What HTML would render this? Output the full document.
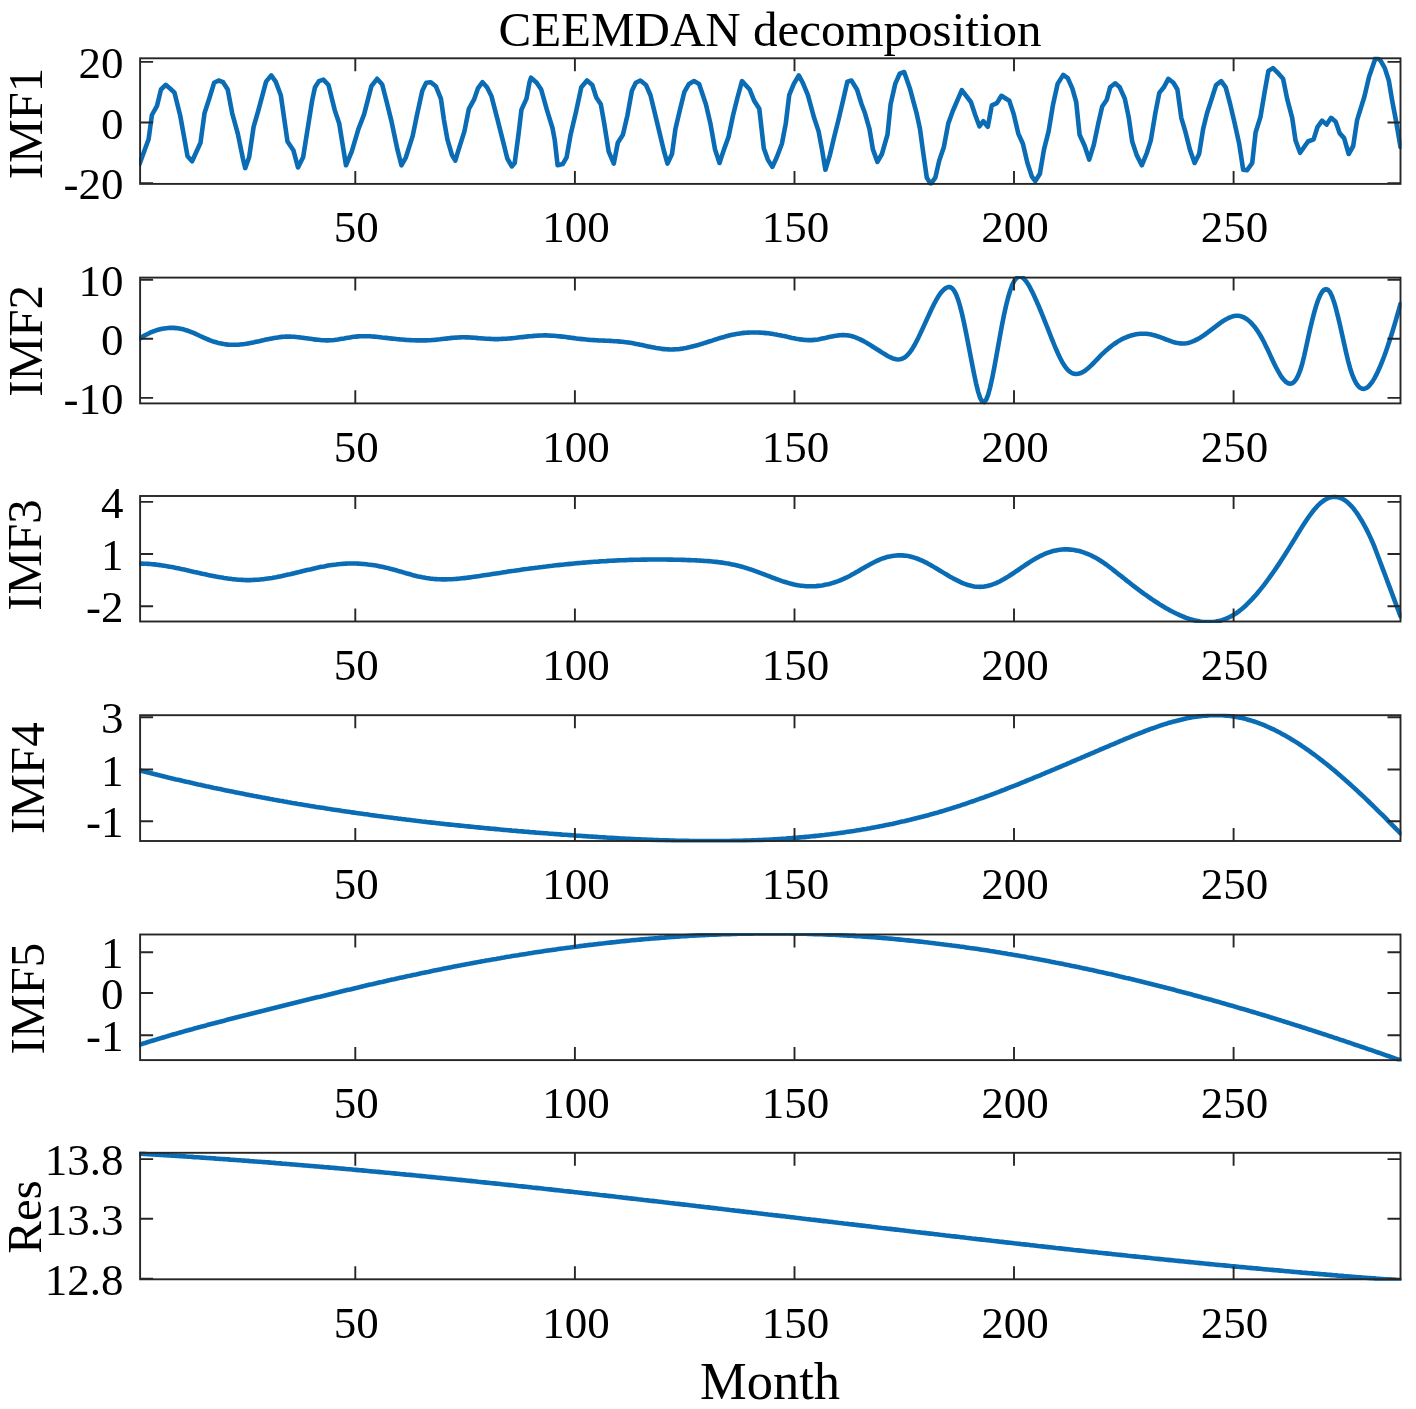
<!DOCTYPE html><html><head><meta charset="utf-8"><style>html,body{margin:0;padding:0;background:#fff;width:1416px;height:1409px;overflow:hidden}svg{display:block;will-change:transform}text{font-family:"Liberation Serif",serif;fill:#000}</style></head><body>
<svg width="1416" height="1409" viewBox="0 0 1416 1409">
<rect width="1416" height="1409" fill="#fff"/>
<text x="770" y="45.5" font-size="49" text-anchor="middle" fill="#000">CEEMDAN decomposition</text>
<clipPath id="cp0"><rect x="139.1" y="56.8" width="1262.4" height="128.6"/></clipPath>
<path d="M139.5 164.1 L148.6 139.3 L151.9 115.0 L157.0 105.9 L161.0 89.5 L165.7 84.8 L170.6 89.0 L174.5 92.7 L180.2 115.5 L184.7 140.4 L187.5 156.2 L192.1 161.3 L200.5 142.7 L204.5 113.3 L209.6 97.5 L214.1 82.8 L218.6 80.5 L223.1 82.2 L227.7 89.5 L232.2 113.3 L237.8 133.6 L242.9 158.5 L245.2 168.1 L249.1 157.3 L253.6 126.8 L258.2 111.0 L266.1 81.6 L271.2 75.4 L275.7 81.6 L280.8 95.2 L287.5 141.5 L293.5 150.6 L298.0 167.5 L303.1 157.3 L307.6 129.1 L312.1 100.8 L315.0 87.3 L318.9 81.1 L323.4 79.6 L328.5 85.0 L334.7 109.9 L339.2 123.4 L346.0 165.3 L351.7 151.7 L358.4 129.1 L364.1 114.4 L371.4 86.2 L377.1 78.8 L382.2 84.5 L386.7 102.0 L391.2 120.1 L397.4 149.4 L401.4 165.3 L405.9 157.3 L412.7 135.9 L416.6 116.7 L422.3 90.7 L426.2 82.8 L430.8 82.2 L435.8 86.2 L440.9 98.6 L444.0 120.1 L447.4 139.3 L452.0 155.1 L455.3 160.7 L458.7 149.4 L464.4 131.4 L468.9 108.8 L474.0 99.7 L477.9 88.4 L482.5 82.2 L487.0 87.3 L491.5 96.3 L497.1 117.8 L502.8 140.4 L507.3 158.5 L511.8 166.4 L514.7 163.0 L518.6 133.6 L521.4 109.9 L526.5 98.6 L529.4 82.8 L531.0 77.7 L536.7 82.8 L541.2 89.5 L546.9 109.9 L552.5 128.0 L554.8 140.4 L557.6 165.3 L562.7 164.1 L566.6 157.3 L570.6 134.7 L576.2 111.0 L581.3 87.3 L587.0 80.5 L592.3 85.0 L596.3 97.5 L600.8 104.2 L604.2 123.4 L608.7 151.7 L613.8 163.6 L617.8 142.7 L622.9 134.7 L627.4 115.5 L631.9 90.7 L635.8 82.8 L640.4 80.5 L646.0 85.0 L650.5 95.2 L657.3 123.4 L664.1 151.7 L667.5 163.6 L672.0 154.0 L675.4 129.1 L679.9 109.9 L684.4 91.8 L689.0 83.9 L694.0 81.1 L699.1 83.9 L705.9 104.2 L710.4 123.4 L715.0 149.4 L719.5 163.0 L724.0 149.4 L728.5 137.0 L733.0 115.5 L737.5 97.5 L742.0 81.1 L749.7 89.5 L754.2 100.8 L759.3 108.8 L761.6 129.1 L763.8 148.3 L767.8 159.6 L772.3 166.9 L776.8 157.3 L781.9 143.8 L785.8 123.4 L789.2 95.2 L793.8 83.9 L798.8 75.4 L802.8 82.8 L807.9 95.2 L814.1 117.8 L818.6 131.4 L822.0 149.4 L825.4 169.8 L829.9 155.1 L834.4 135.9 L839.0 117.8 L843.5 98.6 L847.4 81.6 L851.4 80.5 L857.0 89.5 L861.6 104.2 L865.0 113.3 L869.5 129.1 L872.9 149.4 L877.4 161.9 L881.9 154.0 L887.5 134.7 L890.6 104.2 L895.2 83.9 L899.7 73.7 L904.2 72.0 L909.9 88.4 L916.6 113.3 L920.0 129.1 L923.4 154.0 L926.8 177.7 L930.8 183.9 L935.3 177.7 L939.2 160.7 L943.8 147.2 L948.3 123.4 L952.8 111.0 L961.8 90.1 L970.9 102.0 L975.4 115.5 L979.4 126.3 L983.3 121.2 L987.8 126.8 L991.8 105.4 L996.9 103.1 L1001.4 95.8 L1009.3 100.8 L1013.8 114.4 L1018.3 133.6 L1022.9 143.8 L1027.4 163.0 L1031.9 176.6 L1035.3 181.1 L1039.9 173.7 L1044.0 149.4 L1048.6 131.4 L1053.1 104.2 L1057.6 83.9 L1063.2 74.9 L1067.8 78.2 L1072.3 88.4 L1076.2 102.0 L1079.6 134.7 L1084.7 146.0 L1089.2 159.6 L1093.8 144.9 L1098.3 123.4 L1102.2 106.5 L1106.8 99.7 L1110.1 87.3 L1115.2 83.3 L1119.7 87.3 L1124.8 98.6 L1128.8 117.8 L1132.2 141.5 L1136.7 155.1 L1141.8 165.3 L1146.9 152.8 L1150.8 140.4 L1155.3 113.3 L1159.3 92.9 L1163.8 87.3 L1168.3 78.8 L1173.4 82.8 L1177.4 89.5 L1181.3 117.8 L1185.3 131.4 L1190.0 150.0 L1194.6 163.0 L1199.1 154.0 L1203.1 129.1 L1207.0 113.3 L1212.1 97.5 L1216.1 85.0 L1221.2 81.1 L1225.7 87.3 L1230.2 104.2 L1234.7 123.4 L1239.2 143.8 L1243.2 169.8 L1247.1 170.3 L1252.2 163.0 L1255.6 132.5 L1260.5 116.7 L1264.5 92.9 L1268.4 70.9 L1273.0 68.1 L1278.6 73.7 L1283.1 78.8 L1287.1 98.6 L1292.2 117.8 L1295.5 140.4 L1300.1 152.8 L1308.0 141.5 L1313.6 139.3 L1317.6 126.8 L1322.1 120.6 L1326.6 124.6 L1331.1 117.8 L1335.7 121.8 L1339.6 133.1 L1344.1 138.1 L1348.7 154.0 L1353.2 146.0 L1357.1 120.1 L1364.5 96.3 L1369.0 77.1 L1375.8 57.3 L1380.3 60.2 L1384.8 68.1 L1388.8 80.5 L1392.2 100.8 L1396.1 121.2 L1400.5 147.0" fill="none" stroke="#0A6CB4" stroke-width="4.6" stroke-linejoin="round" stroke-linecap="round" clip-path="url(#cp0)"/>
<rect x="140.1" y="58.3" width="1260.4" height="125.6" fill="none" stroke="#262626" stroke-width="1.9"/>
<path d="M355.3 183.9V170.9M355.3 58.3V71.3M574.9 183.9V170.9M574.9 58.3V71.3M794.5 183.9V170.9M794.5 58.3V71.3M1014.0 183.9V170.9M1014.0 58.3V71.3M1233.6 183.9V170.9M1233.6 58.3V71.3M140.1 61.9H153.1M1400.5 61.9H1387.5M140.1 122.5H153.1M1400.5 122.5H1387.5M140.1 183.1H153.1M1400.5 183.1H1387.5" stroke="#262626" stroke-width="1.9" fill="none"/>
<text x="356.3" y="242.1" font-size="45" text-anchor="middle" fill="#222">50</text>
<text x="575.9" y="242.1" font-size="45" text-anchor="middle" fill="#222">100</text>
<text x="795.5" y="242.1" font-size="45" text-anchor="middle" fill="#222">150</text>
<text x="1015.0" y="242.1" font-size="45" text-anchor="middle" fill="#222">200</text>
<text x="1234.6" y="242.1" font-size="45" text-anchor="middle" fill="#222">250</text>
<text x="123.5" y="77.9" font-size="45" text-anchor="end" fill="#222">20</text>
<text x="123.5" y="138.5" font-size="45" text-anchor="end" fill="#222">0</text>
<text x="123.5" y="199.1" font-size="45" text-anchor="end" fill="#222">-20</text>
<text transform="translate(26.1 123.5) rotate(-90)" x="0" y="0" font-size="49" text-anchor="middle" dy="0.33em" fill="#222">IMF1</text>
<clipPath id="cp1"><rect x="139.1" y="276.1" width="1262.4" height="128.8"/></clipPath>
<path d="M140.1 338.3 L142.1 337.0 L144.1 335.8 L146.1 334.7 L148.1 333.7 L150.1 332.7 L152.1 331.9 L154.1 331.1 L156.1 330.4 L158.1 329.8 L160.1 329.3 L162.1 328.8 L164.1 328.5 L166.1 328.2 L168.1 328.0 L170.1 327.9 L172.1 327.9 L174.1 327.9 L176.1 328.1 L178.1 328.3 L180.1 328.7 L182.1 329.1 L184.1 329.6 L186.1 330.2 L188.1 330.8 L190.1 331.6 L192.1 332.4 L194.1 333.2 L196.1 334.1 L198.1 335.0 L200.1 336.0 L202.1 336.9 L204.1 337.8 L206.1 338.7 L208.1 339.5 L210.1 340.3 L212.1 341.1 L214.1 341.7 L216.1 342.3 L218.1 342.9 L220.1 343.3 L222.1 343.7 L224.1 344.1 L226.1 344.4 L228.1 344.6 L230.1 344.7 L232.1 344.8 L234.1 344.8 L236.1 344.8 L238.1 344.7 L240.1 344.5 L242.1 344.3 L244.1 344.1 L246.1 343.8 L248.1 343.4 L250.1 343.1 L252.1 342.7 L254.1 342.3 L256.1 341.8 L258.1 341.4 L260.1 341.0 L262.1 340.5 L264.1 340.1 L266.1 339.6 L268.1 339.2 L270.1 338.8 L272.1 338.4 L274.1 338.0 L276.1 337.7 L278.1 337.4 L280.1 337.1 L282.1 336.9 L284.1 336.7 L286.1 336.6 L288.1 336.6 L290.1 336.6 L292.1 336.7 L294.1 336.8 L296.1 337.0 L298.1 337.2 L300.1 337.4 L302.1 337.7 L304.1 337.9 L306.1 338.2 L308.1 338.5 L310.1 338.8 L312.1 339.1 L314.1 339.4 L316.1 339.6 L318.1 339.8 L320.1 340.0 L322.1 340.2 L324.1 340.3 L326.1 340.4 L328.1 340.4 L330.1 340.3 L332.1 340.2 L334.1 340.0 L336.1 339.7 L338.1 339.5 L340.1 339.1 L342.1 338.8 L344.1 338.5 L346.1 338.1 L348.1 337.7 L350.1 337.4 L352.1 337.1 L354.1 336.8 L356.1 336.6 L358.1 336.4 L360.1 336.3 L362.1 336.2 L364.1 336.2 L366.1 336.2 L368.1 336.2 L370.1 336.3 L372.1 336.5 L374.1 336.6 L376.1 336.8 L378.1 337.0 L380.1 337.2 L382.1 337.5 L384.1 337.7 L386.1 337.9 L388.1 338.1 L390.1 338.4 L392.1 338.6 L394.1 338.8 L396.1 339.0 L398.1 339.2 L400.1 339.4 L402.1 339.5 L404.1 339.7 L406.1 339.9 L408.1 340.0 L410.1 340.1 L412.1 340.2 L414.1 340.3 L416.1 340.4 L418.1 340.4 L420.1 340.4 L422.1 340.4 L424.1 340.4 L426.1 340.4 L428.1 340.3 L430.1 340.2 L432.1 340.0 L434.1 339.9 L436.1 339.7 L438.1 339.5 L440.1 339.3 L442.1 339.0 L444.1 338.8 L446.1 338.6 L448.1 338.4 L450.1 338.1 L452.1 337.9 L454.1 337.8 L456.1 337.6 L458.1 337.5 L460.1 337.4 L462.1 337.3 L464.1 337.3 L466.1 337.4 L468.1 337.4 L470.1 337.5 L472.1 337.6 L474.1 337.8 L476.1 337.9 L478.1 338.1 L480.1 338.2 L482.1 338.4 L484.1 338.5 L486.1 338.7 L488.1 338.8 L490.1 338.9 L492.1 339.0 L494.1 339.1 L496.1 339.1 L498.1 339.1 L500.1 339.0 L502.1 338.9 L504.1 338.8 L506.1 338.7 L508.1 338.5 L510.1 338.4 L512.1 338.2 L514.1 338.0 L516.1 337.8 L518.1 337.5 L520.1 337.3 L522.1 337.1 L524.1 336.9 L526.1 336.6 L528.1 336.4 L530.1 336.2 L532.1 336.1 L534.1 335.9 L536.1 335.7 L538.1 335.6 L540.1 335.5 L542.1 335.5 L544.1 335.4 L546.1 335.4 L548.1 335.5 L550.1 335.6 L552.1 335.7 L554.1 335.8 L556.1 336.0 L558.1 336.2 L560.1 336.4 L562.1 336.6 L564.1 336.8 L566.1 337.1 L568.1 337.4 L570.1 337.6 L572.1 337.9 L574.1 338.1 L576.1 338.4 L578.1 338.7 L580.1 338.9 L582.1 339.1 L584.1 339.3 L586.1 339.5 L588.1 339.7 L590.1 339.9 L592.1 340.0 L594.1 340.1 L596.1 340.2 L598.1 340.4 L600.1 340.5 L602.1 340.5 L604.1 340.6 L606.1 340.7 L608.1 340.8 L610.1 340.9 L612.1 341.0 L614.1 341.2 L616.1 341.3 L618.1 341.4 L620.1 341.6 L622.1 341.8 L624.1 342.0 L626.1 342.2 L628.1 342.5 L630.1 342.8 L632.1 343.1 L634.1 343.5 L636.1 343.9 L638.1 344.3 L640.1 344.7 L642.1 345.1 L644.1 345.6 L646.1 346.0 L648.1 346.4 L650.1 346.8 L652.1 347.2 L654.1 347.6 L656.1 348.0 L658.1 348.3 L660.1 348.6 L662.1 348.9 L664.1 349.1 L666.1 349.3 L668.1 349.4 L670.1 349.5 L672.1 349.5 L674.1 349.4 L676.1 349.3 L678.1 349.2 L680.1 348.9 L682.1 348.7 L684.1 348.3 L686.1 348.0 L688.1 347.5 L690.1 347.1 L692.1 346.6 L694.1 346.1 L696.1 345.5 L698.1 345.0 L700.1 344.4 L702.1 343.8 L704.1 343.1 L706.1 342.5 L708.1 341.8 L710.1 341.2 L712.1 340.6 L714.1 339.9 L716.1 339.3 L718.1 338.6 L720.1 338.0 L722.1 337.4 L724.1 336.9 L726.1 336.3 L728.1 335.8 L730.1 335.3 L732.1 334.8 L734.1 334.4 L736.1 334.0 L738.1 333.7 L740.1 333.4 L742.1 333.1 L744.1 332.9 L746.1 332.8 L748.1 332.6 L750.1 332.5 L752.1 332.5 L754.1 332.5 L756.1 332.5 L758.1 332.5 L760.1 332.6 L762.1 332.7 L764.1 332.9 L766.1 333.1 L768.1 333.3 L770.1 333.6 L772.1 333.8 L774.1 334.2 L776.1 334.5 L778.1 334.9 L780.1 335.2 L782.1 335.7 L784.1 336.1 L786.1 336.5 L788.1 337.0 L790.1 337.4 L792.1 337.9 L794.1 338.3 L796.1 338.7 L798.1 339.0 L800.1 339.4 L802.1 339.6 L804.1 339.9 L806.1 340.0 L808.1 340.1 L810.1 340.1 L812.1 340.1 L814.1 339.9 L816.1 339.7 L818.1 339.4 L820.1 339.0 L822.1 338.6 L824.1 338.2 L826.1 337.8 L828.1 337.3 L830.1 336.8 L832.1 336.4 L834.1 336.0 L836.1 335.7 L838.1 335.4 L840.1 335.2 L842.1 335.1 L844.1 335.1 L846.1 335.2 L848.1 335.4 L850.1 335.8 L852.1 336.3 L854.1 336.9 L856.1 337.6 L858.1 338.5 L860.1 339.4 L862.1 340.4 L864.1 341.4 L866.1 342.6 L868.1 343.7 L870.1 344.9 L872.1 346.2 L874.1 347.5 L876.1 348.7 L878.1 350.0 L880.1 351.3 L882.1 352.6 L884.1 353.8 L886.1 355.0 L888.1 356.2 L890.1 357.2 L892.1 358.1 L894.1 358.8 L896.1 359.3 L898.1 359.5 L900.1 359.3 L902.1 358.8 L904.1 357.8 L906.1 356.4 L908.1 354.4 L910.1 352.0 L912.1 349.1 L914.1 345.8 L916.1 342.1 L918.1 338.2 L920.1 334.1 L922.1 329.8 L924.1 325.4 L926.1 321.0 L928.1 316.6 L930.1 312.2 L932.1 308.0 L934.1 304.0 L936.1 300.2 L938.1 296.8 L940.1 293.8 L942.1 291.3 L944.1 289.3 L946.1 287.8 L948.1 287.1 L950.1 287.1 L952.1 288.2 L954.1 290.6 L956.1 294.4 L958.1 299.7 L960.1 306.4 L962.1 314.3 L964.1 323.3 L966.1 333.0 L968.1 343.2 L970.1 353.6 L972.1 364.0 L974.1 374.1 L976.1 383.5 L978.1 391.6 L980.1 397.8 L982.1 401.5 L984.1 402.2 L986.1 399.8 L988.1 394.8 L990.1 387.5 L992.1 378.6 L994.1 368.5 L996.1 357.7 L998.1 346.5 L1000.1 335.3 L1002.1 324.5 L1004.1 314.5 L1006.1 305.5 L1008.1 297.5 L1010.1 290.8 L1012.1 285.3 L1014.1 281.2 L1016.1 278.5 L1018.1 277.0 L1020.1 276.6 L1022.1 277.3 L1024.1 278.9 L1026.1 281.2 L1028.1 284.2 L1030.1 287.7 L1032.1 291.6 L1034.1 295.8 L1036.1 300.2 L1038.1 304.7 L1040.1 309.5 L1042.1 314.3 L1044.1 319.3 L1046.1 324.3 L1048.1 329.4 L1050.1 334.5 L1052.1 339.6 L1054.1 344.5 L1056.1 349.3 L1058.1 353.8 L1060.1 358.0 L1062.1 361.8 L1064.1 365.2 L1066.1 368.0 L1068.1 370.3 L1070.1 371.9 L1072.1 373.1 L1074.1 373.8 L1076.1 374.0 L1078.1 373.8 L1080.1 373.3 L1082.1 372.4 L1084.1 371.3 L1086.1 369.8 L1088.1 368.2 L1090.1 366.4 L1092.1 364.5 L1094.1 362.5 L1096.1 360.4 L1098.1 358.3 L1100.1 356.2 L1102.1 354.2 L1104.1 352.3 L1106.1 350.4 L1108.1 348.7 L1110.1 347.1 L1112.1 345.5 L1114.1 344.0 L1116.1 342.7 L1118.1 341.4 L1120.1 340.2 L1122.1 339.1 L1124.1 338.2 L1126.1 337.3 L1128.1 336.5 L1130.1 335.8 L1132.1 335.2 L1134.1 334.7 L1136.1 334.3 L1138.1 334.0 L1140.1 333.8 L1142.1 333.7 L1144.1 333.7 L1146.1 333.8 L1148.1 334.0 L1150.1 334.3 L1152.1 334.7 L1154.1 335.2 L1156.1 335.8 L1158.1 336.5 L1160.1 337.2 L1162.1 337.9 L1164.1 338.7 L1166.1 339.5 L1168.1 340.2 L1170.1 340.9 L1172.1 341.6 L1174.1 342.2 L1176.1 342.7 L1178.1 343.1 L1180.1 343.4 L1182.1 343.5 L1184.1 343.5 L1186.1 343.3 L1188.1 343.0 L1190.1 342.4 L1192.1 341.7 L1194.1 340.9 L1196.1 339.9 L1198.1 338.9 L1200.1 337.7 L1202.1 336.4 L1204.1 335.1 L1206.1 333.6 L1208.1 332.2 L1210.1 330.7 L1212.1 329.2 L1214.1 327.6 L1216.1 326.1 L1218.1 324.6 L1220.1 323.1 L1222.1 321.7 L1224.1 320.4 L1226.1 319.2 L1228.1 318.2 L1230.1 317.3 L1232.1 316.6 L1234.1 316.1 L1236.1 315.8 L1238.1 315.8 L1240.1 316.1 L1242.1 316.7 L1244.1 317.5 L1246.1 318.7 L1248.1 320.1 L1250.1 321.9 L1252.1 323.9 L1254.1 326.2 L1256.1 328.9 L1258.1 331.8 L1260.1 335.0 L1262.1 338.5 L1264.1 342.3 L1266.1 346.4 L1268.1 350.6 L1270.1 354.9 L1272.1 359.2 L1274.1 363.4 L1276.1 367.5 L1278.1 371.2 L1280.1 374.7 L1282.1 377.7 L1284.1 380.1 L1286.1 382.0 L1288.1 383.2 L1290.1 383.7 L1292.1 383.3 L1294.1 381.9 L1296.1 379.4 L1298.1 375.7 L1300.1 370.7 L1302.1 364.2 L1304.1 356.2 L1306.1 347.3 L1308.1 338.1 L1310.1 329.1 L1312.1 320.7 L1314.1 312.9 L1316.1 306.0 L1318.1 300.1 L1320.1 295.4 L1322.1 291.9 L1324.1 289.7 L1326.1 289.1 L1328.1 289.9 L1330.1 292.3 L1332.1 296.5 L1334.1 302.2 L1336.1 309.2 L1338.1 317.1 L1340.1 325.5 L1342.1 334.4 L1344.1 343.5 L1346.1 352.4 L1348.1 360.8 L1350.1 368.2 L1352.1 374.3 L1354.1 379.2 L1356.1 383.1 L1358.1 385.9 L1360.1 387.8 L1362.1 388.8 L1364.1 388.9 L1366.1 388.2 L1368.1 386.8 L1370.1 384.7 L1372.1 382.1 L1374.1 378.9 L1376.1 375.2 L1378.1 371.0 L1380.1 366.5 L1382.1 361.7 L1384.1 356.5 L1386.1 350.9 L1388.1 345.1 L1390.1 339.0 L1392.1 332.7 L1394.1 326.1 L1396.1 319.4 L1398.1 312.4 L1400.1 305.3 L1400.5 303.9" fill="none" stroke="#0A6CB4" stroke-width="4.6" stroke-linejoin="round" stroke-linecap="round" clip-path="url(#cp1)"/>
<rect x="140.1" y="277.6" width="1260.4" height="125.8" fill="none" stroke="#262626" stroke-width="1.9"/>
<path d="M355.3 403.3V390.3M355.3 277.6V290.6M574.9 403.3V390.3M574.9 277.6V290.6M794.5 403.3V390.3M794.5 277.6V290.6M1014.0 403.3V390.3M1014.0 277.6V290.6M1233.6 403.3V390.3M1233.6 277.6V290.6M140.1 279.8H153.1M1400.5 279.8H1387.5M140.1 338.7H153.1M1400.5 338.7H1387.5M140.1 397.9H153.1M1400.5 397.9H1387.5" stroke="#262626" stroke-width="1.9" fill="none"/>
<text x="356.3" y="461.5" font-size="45" text-anchor="middle" fill="#222">50</text>
<text x="575.9" y="461.5" font-size="45" text-anchor="middle" fill="#222">100</text>
<text x="795.5" y="461.5" font-size="45" text-anchor="middle" fill="#222">150</text>
<text x="1015.0" y="461.5" font-size="45" text-anchor="middle" fill="#222">200</text>
<text x="1234.6" y="461.5" font-size="45" text-anchor="middle" fill="#222">250</text>
<text x="123.5" y="295.8" font-size="45" text-anchor="end" fill="#222">10</text>
<text x="123.5" y="354.7" font-size="45" text-anchor="end" fill="#222">0</text>
<text x="123.5" y="413.9" font-size="45" text-anchor="end" fill="#222">-10</text>
<text transform="translate(26.2 340.9) rotate(-90)" x="0" y="0" font-size="49" text-anchor="middle" dy="0.33em" fill="#222">IMF2</text>
<clipPath id="cp2"><rect x="139.1" y="494.5" width="1262.4" height="128.5"/></clipPath>
<path d="M140.1 563.6 L142.1 563.6 L144.1 563.7 L146.1 563.8 L148.1 563.9 L150.1 564.0 L152.1 564.2 L154.1 564.4 L156.1 564.6 L158.1 564.9 L160.1 565.1 L162.1 565.4 L164.1 565.7 L166.1 566.1 L168.1 566.4 L170.1 566.8 L172.1 567.1 L174.1 567.5 L176.1 567.9 L178.1 568.3 L180.1 568.8 L182.1 569.2 L184.1 569.6 L186.1 570.1 L188.1 570.5 L190.1 571.0 L192.1 571.4 L194.1 571.9 L196.1 572.3 L198.1 572.8 L200.1 573.2 L202.1 573.7 L204.1 574.1 L206.1 574.5 L208.1 575.0 L210.1 575.4 L212.1 575.8 L214.1 576.2 L216.1 576.6 L218.1 576.9 L220.1 577.3 L222.1 577.6 L224.1 578.0 L226.1 578.3 L228.1 578.6 L230.1 578.8 L232.1 579.1 L234.1 579.3 L236.1 579.5 L238.1 579.7 L240.1 579.8 L242.1 579.9 L244.1 580.0 L246.1 580.1 L248.1 580.1 L250.1 580.1 L252.1 580.0 L254.1 579.9 L256.1 579.8 L258.1 579.7 L260.1 579.5 L262.1 579.3 L264.1 579.1 L266.1 578.8 L268.1 578.5 L270.1 578.2 L272.1 577.9 L274.1 577.5 L276.1 577.2 L278.1 576.8 L280.1 576.4 L282.1 576.0 L284.1 575.5 L286.1 575.1 L288.1 574.6 L290.1 574.2 L292.1 573.7 L294.1 573.2 L296.1 572.7 L298.1 572.2 L300.1 571.8 L302.1 571.3 L304.1 570.8 L306.1 570.3 L308.1 569.8 L310.1 569.4 L312.1 568.9 L314.1 568.4 L316.1 568.0 L318.1 567.6 L320.1 567.1 L322.1 566.7 L324.1 566.4 L326.1 566.0 L328.1 565.6 L330.1 565.3 L332.1 565.0 L334.1 564.7 L336.1 564.5 L338.1 564.2 L340.1 564.0 L342.1 563.9 L344.1 563.7 L346.1 563.6 L348.1 563.5 L350.1 563.5 L352.1 563.5 L354.1 563.5 L356.1 563.5 L358.1 563.6 L360.1 563.7 L362.1 563.9 L364.1 564.0 L366.1 564.2 L368.1 564.5 L370.1 564.7 L372.1 565.0 L374.1 565.3 L376.1 565.6 L378.1 566.0 L380.1 566.4 L382.1 566.8 L384.1 567.2 L386.1 567.7 L388.1 568.1 L390.1 568.7 L392.1 569.2 L394.1 569.7 L396.1 570.3 L398.1 570.9 L400.1 571.4 L402.1 572.0 L404.1 572.6 L406.1 573.2 L408.1 573.7 L410.1 574.3 L412.1 574.9 L414.1 575.4 L416.1 575.9 L418.1 576.4 L420.1 576.8 L422.1 577.3 L424.1 577.6 L426.1 578.0 L428.1 578.3 L430.1 578.6 L432.1 578.8 L434.1 579.0 L436.1 579.1 L438.1 579.2 L440.1 579.3 L442.1 579.4 L444.1 579.4 L446.1 579.4 L448.1 579.3 L450.1 579.2 L452.1 579.2 L454.1 579.0 L456.1 578.9 L458.1 578.7 L460.1 578.5 L462.1 578.3 L464.1 578.1 L466.1 577.9 L468.1 577.6 L470.1 577.4 L472.1 577.1 L474.1 576.8 L476.1 576.5 L478.1 576.2 L480.1 575.9 L482.1 575.6 L484.1 575.3 L486.1 575.0 L488.1 574.7 L490.1 574.4 L492.1 574.1 L494.1 573.8 L496.1 573.5 L498.1 573.2 L500.1 572.9 L502.1 572.6 L504.1 572.2 L506.1 571.9 L508.1 571.6 L510.1 571.3 L512.1 571.0 L514.1 570.8 L516.1 570.5 L518.1 570.2 L520.1 569.9 L522.1 569.6 L524.1 569.3 L526.1 569.0 L528.1 568.8 L530.1 568.5 L532.1 568.2 L534.1 568.0 L536.1 567.7 L538.1 567.5 L540.1 567.2 L542.1 567.0 L544.1 566.7 L546.1 566.5 L548.1 566.2 L550.1 566.0 L552.1 565.8 L554.1 565.5 L556.1 565.3 L558.1 565.1 L560.1 564.9 L562.1 564.7 L564.1 564.5 L566.1 564.3 L568.1 564.1 L570.1 563.9 L572.1 563.7 L574.1 563.5 L576.1 563.3 L578.1 563.1 L580.1 563.0 L582.1 562.8 L584.1 562.6 L586.1 562.5 L588.1 562.3 L590.1 562.1 L592.1 562.0 L594.1 561.8 L596.1 561.7 L598.1 561.6 L600.1 561.4 L602.1 561.3 L604.1 561.2 L606.1 561.1 L608.1 560.9 L610.1 560.8 L612.1 560.7 L614.1 560.6 L616.1 560.5 L618.1 560.4 L620.1 560.3 L622.1 560.2 L624.1 560.2 L626.1 560.1 L628.1 560.0 L630.1 559.9 L632.1 559.9 L634.1 559.8 L636.1 559.8 L638.1 559.7 L640.1 559.7 L642.1 559.6 L644.1 559.6 L646.1 559.6 L648.1 559.5 L650.1 559.5 L652.1 559.5 L654.1 559.5 L656.1 559.5 L658.1 559.5 L660.1 559.5 L662.1 559.5 L664.1 559.5 L666.1 559.5 L668.1 559.6 L670.1 559.6 L672.1 559.6 L674.1 559.7 L676.1 559.7 L678.1 559.7 L680.1 559.8 L682.1 559.9 L684.1 559.9 L686.1 560.0 L688.1 560.1 L690.1 560.1 L692.1 560.2 L694.1 560.3 L696.1 560.4 L698.1 560.5 L700.1 560.6 L702.1 560.7 L704.1 560.9 L706.1 561.0 L708.1 561.1 L710.1 561.3 L712.1 561.5 L714.1 561.7 L716.1 561.9 L718.1 562.1 L720.1 562.4 L722.1 562.6 L724.1 562.9 L726.1 563.3 L728.1 563.6 L730.1 564.0 L732.1 564.4 L734.1 564.8 L736.1 565.2 L738.1 565.7 L740.1 566.2 L742.1 566.8 L744.1 567.4 L746.1 568.0 L748.1 568.6 L750.1 569.3 L752.1 569.9 L754.1 570.7 L756.1 571.4 L758.1 572.1 L760.1 572.9 L762.1 573.6 L764.1 574.4 L766.1 575.2 L768.1 575.9 L770.1 576.7 L772.1 577.5 L774.1 578.2 L776.1 579.0 L778.1 579.7 L780.1 580.4 L782.1 581.1 L784.1 581.7 L786.1 582.3 L788.1 582.9 L790.1 583.5 L792.1 584.0 L794.1 584.5 L796.1 584.9 L798.1 585.3 L800.1 585.6 L802.1 585.8 L804.1 586.0 L806.1 586.2 L808.1 586.3 L810.1 586.3 L812.1 586.3 L814.1 586.2 L816.1 586.1 L818.1 585.9 L820.1 585.7 L822.1 585.4 L824.1 585.0 L826.1 584.6 L828.1 584.2 L830.1 583.7 L832.1 583.1 L834.1 582.5 L836.1 581.8 L838.1 581.1 L840.1 580.3 L842.1 579.5 L844.1 578.6 L846.1 577.7 L848.1 576.7 L850.1 575.7 L852.1 574.6 L854.1 573.5 L856.1 572.3 L858.1 571.2 L860.1 570.0 L862.1 568.8 L864.1 567.7 L866.1 566.5 L868.1 565.4 L870.1 564.3 L872.1 563.2 L874.1 562.2 L876.1 561.2 L878.1 560.3 L880.1 559.4 L882.1 558.7 L884.1 558.0 L886.1 557.3 L888.1 556.8 L890.1 556.4 L892.1 556.0 L894.1 555.7 L896.1 555.5 L898.1 555.4 L900.1 555.4 L902.1 555.4 L904.1 555.6 L906.1 555.8 L908.1 556.1 L910.1 556.5 L912.1 557.0 L914.1 557.6 L916.1 558.2 L918.1 559.0 L920.1 559.8 L922.1 560.7 L924.1 561.6 L926.1 562.6 L928.1 563.7 L930.1 564.8 L932.1 565.9 L934.1 567.1 L936.1 568.3 L938.1 569.5 L940.1 570.7 L942.1 571.9 L944.1 573.1 L946.1 574.3 L948.1 575.5 L950.1 576.7 L952.1 577.8 L954.1 578.9 L956.1 579.9 L958.1 580.9 L960.1 581.9 L962.1 582.8 L964.1 583.6 L966.1 584.3 L968.1 585.0 L970.1 585.5 L972.1 586.0 L974.1 586.4 L976.1 586.7 L978.1 586.8 L980.1 586.9 L982.1 586.8 L984.1 586.6 L986.1 586.2 L988.1 585.8 L990.1 585.3 L992.1 584.6 L994.1 583.9 L996.1 583.1 L998.1 582.2 L1000.1 581.2 L1002.1 580.1 L1004.1 579.0 L1006.1 577.8 L1008.1 576.6 L1010.1 575.3 L1012.1 574.0 L1014.1 572.7 L1016.1 571.3 L1018.1 570.0 L1020.1 568.6 L1022.1 567.2 L1024.1 565.9 L1026.1 564.5 L1028.1 563.2 L1030.1 561.9 L1032.1 560.6 L1034.1 559.4 L1036.1 558.3 L1038.1 557.2 L1040.1 556.1 L1042.1 555.2 L1044.1 554.2 L1046.1 553.4 L1048.1 552.6 L1050.1 552.0 L1052.1 551.3 L1054.1 550.8 L1056.1 550.4 L1058.1 550.0 L1060.1 549.7 L1062.1 549.5 L1064.1 549.4 L1066.1 549.4 L1068.1 549.4 L1070.1 549.6 L1072.1 549.8 L1074.1 550.0 L1076.1 550.4 L1078.1 550.8 L1080.1 551.3 L1082.1 551.9 L1084.1 552.6 L1086.1 553.3 L1088.1 554.1 L1090.1 555.0 L1092.1 555.9 L1094.1 557.0 L1096.1 558.1 L1098.1 559.2 L1100.1 560.5 L1102.1 561.8 L1104.1 563.1 L1106.1 564.5 L1108.1 566.0 L1110.1 567.5 L1112.1 569.0 L1114.1 570.6 L1116.1 572.2 L1118.1 573.8 L1120.1 575.3 L1122.1 576.9 L1124.1 578.5 L1126.1 580.1 L1128.1 581.7 L1130.1 583.2 L1132.1 584.8 L1134.1 586.3 L1136.1 587.8 L1138.1 589.3 L1140.1 590.8 L1142.1 592.3 L1144.1 593.8 L1146.1 595.2 L1148.1 596.6 L1150.1 598.0 L1152.1 599.4 L1154.1 600.7 L1156.1 602.0 L1158.1 603.3 L1160.1 604.6 L1162.1 605.8 L1164.1 607.0 L1166.1 608.2 L1168.1 609.3 L1170.1 610.4 L1172.1 611.5 L1174.1 612.5 L1176.1 613.5 L1178.1 614.4 L1180.1 615.3 L1182.1 616.2 L1184.1 617.0 L1186.1 617.8 L1188.1 618.5 L1190.1 619.1 L1192.1 619.7 L1194.1 620.3 L1196.1 620.7 L1198.1 621.1 L1200.1 621.5 L1202.1 621.8 L1204.1 622.0 L1206.1 622.1 L1208.1 622.1 L1210.1 622.1 L1212.1 622.0 L1214.1 621.8 L1216.1 621.5 L1218.1 621.1 L1220.1 620.7 L1222.1 620.1 L1224.1 619.4 L1226.1 618.7 L1228.1 617.8 L1230.1 616.8 L1232.1 615.7 L1234.1 614.6 L1236.1 613.3 L1238.1 611.8 L1240.1 610.3 L1242.1 608.7 L1244.1 607.0 L1246.1 605.2 L1248.1 603.2 L1250.1 601.2 L1252.1 599.1 L1254.1 596.9 L1256.1 594.7 L1258.1 592.3 L1260.1 589.9 L1262.1 587.4 L1264.1 584.8 L1266.1 582.2 L1268.1 579.5 L1270.1 576.7 L1272.1 573.9 L1274.1 571.0 L1276.1 568.1 L1278.1 565.1 L1280.1 562.1 L1282.1 559.0 L1284.1 555.9 L1286.1 552.8 L1288.1 549.6 L1290.1 546.4 L1292.1 543.1 L1294.1 539.9 L1296.1 536.6 L1298.1 533.3 L1300.1 530.1 L1302.1 526.9 L1304.1 523.8 L1306.1 520.7 L1308.1 517.8 L1310.1 515.0 L1312.1 512.3 L1314.1 509.8 L1316.1 507.5 L1318.1 505.3 L1320.1 503.4 L1322.1 501.8 L1324.1 500.3 L1326.1 499.1 L1328.1 498.1 L1330.1 497.4 L1332.1 497.0 L1334.1 496.8 L1336.1 496.9 L1338.1 497.2 L1340.1 497.8 L1342.1 498.7 L1344.1 499.8 L1346.1 501.2 L1348.1 502.8 L1350.1 504.8 L1352.1 506.9 L1354.1 509.3 L1356.1 512.0 L1358.1 514.9 L1360.1 518.2 L1362.1 521.3 L1364.1 525.0 L1366.1 528.7 L1368.1 532.6 L1370.1 536.9 L1372.1 541.3 L1374.1 545.9 L1376.1 551.2 L1378.1 556.5 L1380.1 561.8 L1382.1 567.1 L1384.1 572.4 L1386.1 577.7 L1388.1 583.1 L1390.1 588.4 L1392.1 593.8 L1394.1 599.1 L1396.1 604.5 L1398.1 609.8 L1400.1 615.2 L1400.5 616.3" fill="none" stroke="#0A6CB4" stroke-width="4.6" stroke-linejoin="round" stroke-linecap="round" clip-path="url(#cp2)"/>
<rect x="140.1" y="496.0" width="1260.4" height="125.5" fill="none" stroke="#262626" stroke-width="1.9"/>
<path d="M355.3 621.5V608.5M355.3 496.0V509.0M574.9 621.5V608.5M574.9 496.0V509.0M794.5 621.5V608.5M794.5 496.0V509.0M1014.0 621.5V608.5M1014.0 496.0V509.0M1233.6 621.5V608.5M1233.6 496.0V509.0M140.1 501.9H153.1M1400.5 501.9H1387.5M140.1 554.0H153.1M1400.5 554.0H1387.5M140.1 606.3H153.1M1400.5 606.3H1387.5" stroke="#262626" stroke-width="1.9" fill="none"/>
<text x="356.3" y="679.7" font-size="45" text-anchor="middle" fill="#222">50</text>
<text x="575.9" y="679.7" font-size="45" text-anchor="middle" fill="#222">100</text>
<text x="795.5" y="679.7" font-size="45" text-anchor="middle" fill="#222">150</text>
<text x="1015.0" y="679.7" font-size="45" text-anchor="middle" fill="#222">200</text>
<text x="1234.6" y="679.7" font-size="45" text-anchor="middle" fill="#222">250</text>
<text x="123.5" y="517.9" font-size="45" text-anchor="end" fill="#222">4</text>
<text x="123.5" y="570.0" font-size="45" text-anchor="end" fill="#222">1</text>
<text x="123.5" y="622.3" font-size="45" text-anchor="end" fill="#222">-2</text>
<text transform="translate(24.4 555.0) rotate(-90)" x="0" y="0" font-size="49" text-anchor="middle" dy="0.33em" fill="#222">IMF3</text>
<clipPath id="cp3"><rect x="139.1" y="713.7" width="1262.4" height="128.8"/></clipPath>
<path d="M140.1 770.5 L142.1 771.0 L144.1 771.5 L146.1 772.1 L148.1 772.6 L150.1 773.1 L152.1 773.6 L154.1 774.1 L156.1 774.5 L158.1 775.0 L160.1 775.5 L162.1 776.0 L164.1 776.5 L166.1 777.0 L168.1 777.5 L170.1 777.9 L172.1 778.4 L174.1 778.9 L176.1 779.4 L178.1 779.8 L180.1 780.3 L182.1 780.8 L184.1 781.2 L186.1 781.7 L188.1 782.1 L190.1 782.6 L192.1 783.0 L194.1 783.5 L196.1 783.9 L198.1 784.4 L200.1 784.8 L202.1 785.3 L204.1 785.7 L206.1 786.2 L208.1 786.6 L210.1 787.0 L212.1 787.4 L214.1 787.9 L216.1 788.3 L218.1 788.7 L220.1 789.1 L222.1 789.6 L224.1 790.0 L226.1 790.4 L228.1 790.8 L230.1 791.2 L232.1 791.6 L234.1 792.0 L236.1 792.4 L238.1 792.8 L240.1 793.2 L242.1 793.6 L244.1 794.0 L246.1 794.4 L248.1 794.8 L250.1 795.2 L252.1 795.6 L254.1 796.0 L256.1 796.3 L258.1 796.7 L260.1 797.1 L262.1 797.5 L264.1 797.8 L266.1 798.2 L268.1 798.6 L270.1 799.0 L272.1 799.3 L274.1 799.7 L276.1 800.0 L278.1 800.4 L280.1 800.8 L282.1 801.1 L284.1 801.5 L286.1 801.8 L288.1 802.2 L290.1 802.5 L292.1 802.9 L294.1 803.2 L296.1 803.5 L298.1 803.9 L300.1 804.2 L302.1 804.6 L304.1 804.9 L306.1 805.2 L308.1 805.6 L310.1 805.9 L312.1 806.2 L314.1 806.5 L316.1 806.9 L318.1 807.2 L320.1 807.5 L322.1 807.8 L324.1 808.1 L326.1 808.4 L328.1 808.8 L330.1 809.1 L332.1 809.4 L334.1 809.7 L336.1 810.0 L338.1 810.3 L340.1 810.6 L342.1 810.9 L344.1 811.2 L346.1 811.5 L348.1 811.8 L350.1 812.1 L352.1 812.4 L354.1 812.6 L356.1 812.9 L358.1 813.2 L360.1 813.5 L362.1 813.8 L364.1 814.1 L366.1 814.3 L368.1 814.6 L370.1 814.9 L372.1 815.2 L374.1 815.4 L376.1 815.7 L378.1 816.0 L380.1 816.2 L382.1 816.5 L384.1 816.8 L386.1 817.0 L388.1 817.3 L390.1 817.5 L392.1 817.8 L394.1 818.1 L396.1 818.3 L398.1 818.6 L400.1 818.8 L402.1 819.1 L404.1 819.3 L406.1 819.6 L408.1 819.8 L410.1 820.0 L412.1 820.3 L414.1 820.5 L416.1 820.8 L418.1 821.0 L420.1 821.2 L422.1 821.5 L424.1 821.7 L426.1 821.9 L428.1 822.2 L430.1 822.4 L432.1 822.6 L434.1 822.8 L436.1 823.1 L438.1 823.3 L440.1 823.5 L442.1 823.7 L444.1 823.9 L446.1 824.2 L448.1 824.4 L450.1 824.6 L452.1 824.8 L454.1 825.0 L456.1 825.2 L458.1 825.4 L460.1 825.6 L462.1 825.8 L464.1 826.0 L466.1 826.2 L468.1 826.4 L470.1 826.6 L472.1 826.8 L474.1 827.0 L476.1 827.2 L478.1 827.4 L480.1 827.6 L482.1 827.8 L484.1 828.0 L486.1 828.2 L488.1 828.4 L490.1 828.6 L492.1 828.8 L494.1 828.9 L496.1 829.1 L498.1 829.3 L500.1 829.5 L502.1 829.7 L504.1 829.9 L506.1 830.0 L508.1 830.2 L510.1 830.4 L512.1 830.6 L514.1 830.7 L516.1 830.9 L518.1 831.1 L520.1 831.2 L522.1 831.4 L524.1 831.6 L526.1 831.7 L528.1 831.9 L530.1 832.1 L532.1 832.2 L534.1 832.4 L536.1 832.6 L538.1 832.7 L540.1 832.9 L542.1 833.0 L544.1 833.2 L546.1 833.3 L548.1 833.5 L550.1 833.7 L552.1 833.8 L554.1 834.0 L556.1 834.1 L558.1 834.3 L560.1 834.4 L562.1 834.6 L564.1 834.7 L566.1 834.8 L568.1 835.0 L570.1 835.1 L572.1 835.3 L574.1 835.4 L576.1 835.6 L578.1 835.7 L580.1 835.8 L582.1 836.0 L584.1 836.1 L586.1 836.2 L588.1 836.4 L590.1 836.5 L592.1 836.6 L594.1 836.8 L596.1 836.9 L598.1 837.0 L600.1 837.2 L602.1 837.3 L604.1 837.4 L606.1 837.5 L608.1 837.7 L610.1 837.8 L612.1 837.9 L614.1 838.0 L616.1 838.1 L618.1 838.2 L620.1 838.4 L622.1 838.5 L624.1 838.6 L626.1 838.7 L628.1 838.8 L630.1 838.9 L632.1 839.0 L634.1 839.1 L636.1 839.2 L638.1 839.3 L640.1 839.4 L642.1 839.5 L644.1 839.5 L646.1 839.6 L648.1 839.7 L650.1 839.8 L652.1 839.9 L654.1 840.0 L656.1 840.0 L658.1 840.1 L660.1 840.2 L662.1 840.3 L664.1 840.3 L666.1 840.4 L668.1 840.4 L670.1 840.5 L672.1 840.6 L674.1 840.6 L676.1 840.7 L678.1 840.7 L680.1 840.8 L682.1 840.8 L684.1 840.8 L686.1 840.9 L688.1 840.9 L690.1 841.0 L692.1 841.0 L694.1 841.0 L696.1 841.0 L698.1 841.1 L700.1 841.1 L702.1 841.1 L704.1 841.1 L706.1 841.1 L708.1 841.1 L710.1 841.1 L712.1 841.1 L714.1 841.1 L716.1 841.1 L718.1 841.1 L720.1 841.1 L722.1 841.1 L724.1 841.0 L726.1 841.0 L728.1 841.0 L730.1 841.0 L732.1 840.9 L734.1 840.9 L736.1 840.9 L738.1 840.8 L740.1 840.8 L742.1 840.7 L744.1 840.6 L746.1 840.6 L748.1 840.5 L750.1 840.5 L752.1 840.4 L754.1 840.3 L756.1 840.2 L758.1 840.1 L760.1 840.1 L762.1 840.0 L764.1 839.9 L766.1 839.8 L768.1 839.7 L770.1 839.6 L772.1 839.5 L774.1 839.3 L776.1 839.2 L778.1 839.1 L780.1 839.0 L782.1 838.8 L784.1 838.7 L786.1 838.6 L788.1 838.4 L790.1 838.3 L792.1 838.1 L794.1 837.9 L796.1 837.8 L798.1 837.6 L800.1 837.4 L802.1 837.3 L804.1 837.1 L806.1 836.9 L808.1 836.7 L810.1 836.5 L812.1 836.3 L814.1 836.1 L816.1 835.9 L818.1 835.7 L820.1 835.4 L822.1 835.2 L824.1 835.0 L826.1 834.7 L828.1 834.5 L830.1 834.3 L832.1 834.0 L834.1 833.7 L836.1 833.5 L838.1 833.2 L840.1 832.9 L842.1 832.7 L844.1 832.4 L846.1 832.1 L848.1 831.8 L850.1 831.5 L852.1 831.2 L854.1 830.9 L856.1 830.6 L858.1 830.2 L860.1 829.9 L862.1 829.6 L864.1 829.2 L866.1 828.9 L868.1 828.5 L870.1 828.2 L872.1 827.8 L874.1 827.4 L876.1 827.1 L878.1 826.7 L880.1 826.3 L882.1 825.9 L884.1 825.5 L886.1 825.1 L888.1 824.7 L890.1 824.3 L892.1 823.9 L894.1 823.4 L896.1 823.0 L898.1 822.6 L900.1 822.1 L902.1 821.6 L904.1 821.2 L906.1 820.7 L908.1 820.2 L910.1 819.8 L912.1 819.3 L914.1 818.8 L916.1 818.3 L918.1 817.8 L920.1 817.3 L922.1 816.8 L924.1 816.2 L926.1 815.7 L928.1 815.2 L930.1 814.6 L932.1 814.1 L934.1 813.5 L936.1 812.9 L938.1 812.4 L940.1 811.8 L942.1 811.2 L944.1 810.6 L946.1 810.0 L948.1 809.4 L950.1 808.8 L952.1 808.1 L954.1 807.5 L956.1 806.9 L958.1 806.2 L960.1 805.6 L962.1 804.9 L964.1 804.3 L966.1 803.6 L968.1 802.9 L970.1 802.2 L972.1 801.5 L974.1 800.8 L976.1 800.1 L978.1 799.4 L980.1 798.7 L982.1 798.0 L984.1 797.3 L986.1 796.5 L988.1 795.8 L990.1 795.1 L992.1 794.3 L994.1 793.6 L996.1 792.8 L998.1 792.1 L1000.1 791.3 L1002.1 790.5 L1004.1 789.8 L1006.1 789.0 L1008.1 788.2 L1010.1 787.4 L1012.1 786.6 L1014.1 785.9 L1016.1 785.1 L1018.1 784.3 L1020.1 783.5 L1022.1 782.6 L1024.1 781.8 L1026.1 781.0 L1028.1 780.2 L1030.1 779.4 L1032.1 778.6 L1034.1 777.7 L1036.1 776.9 L1038.1 776.1 L1040.1 775.3 L1042.1 774.4 L1044.1 773.6 L1046.1 772.7 L1048.1 771.9 L1050.1 771.1 L1052.1 770.2 L1054.1 769.4 L1056.1 768.5 L1058.1 767.7 L1060.1 766.8 L1062.1 766.0 L1064.1 765.1 L1066.1 764.3 L1068.1 763.4 L1070.1 762.6 L1072.1 761.7 L1074.1 760.8 L1076.1 760.0 L1078.1 759.1 L1080.1 758.3 L1082.1 757.4 L1084.1 756.6 L1086.1 755.7 L1088.1 754.8 L1090.1 754.0 L1092.1 753.1 L1094.1 752.3 L1096.1 751.4 L1098.1 750.6 L1100.1 749.7 L1102.1 748.8 L1104.1 748.0 L1106.1 747.1 L1108.1 746.3 L1110.1 745.4 L1112.1 744.6 L1114.1 743.8 L1116.1 742.9 L1118.1 742.1 L1120.1 741.2 L1122.1 740.4 L1124.1 739.5 L1126.1 738.7 L1128.1 737.9 L1130.1 737.1 L1132.1 736.2 L1134.1 735.4 L1136.1 734.6 L1138.1 733.8 L1140.1 733.0 L1142.1 732.3 L1144.1 731.5 L1146.1 730.7 L1148.1 730.0 L1150.1 729.2 L1152.1 728.5 L1154.1 727.8 L1156.1 727.1 L1158.1 726.4 L1160.1 725.7 L1162.1 725.0 L1164.1 724.4 L1166.1 723.8 L1168.1 723.1 L1170.1 722.6 L1172.1 722.0 L1174.1 721.4 L1176.1 720.9 L1178.1 720.4 L1180.1 719.9 L1182.1 719.4 L1184.1 718.9 L1186.1 718.5 L1188.1 718.1 L1190.1 717.7 L1192.1 717.3 L1194.1 717.0 L1196.1 716.7 L1198.1 716.4 L1200.1 716.2 L1202.1 715.9 L1204.1 715.7 L1206.1 715.6 L1208.1 715.4 L1210.1 715.3 L1212.1 715.2 L1214.1 715.2 L1216.1 715.2 L1218.1 715.2 L1220.1 715.2 L1222.1 715.3 L1224.1 715.4 L1226.1 715.6 L1228.1 715.8 L1230.1 716.0 L1232.1 716.3 L1234.1 716.6 L1236.1 716.9 L1238.1 717.3 L1240.1 717.7 L1242.1 718.1 L1244.1 718.6 L1246.1 719.1 L1248.1 719.7 L1250.1 720.3 L1252.1 720.9 L1254.1 721.5 L1256.1 722.2 L1258.1 722.9 L1260.1 723.7 L1262.1 724.4 L1264.1 725.2 L1266.1 726.1 L1268.1 727.0 L1270.1 727.9 L1272.1 728.8 L1274.1 729.7 L1276.1 730.7 L1278.1 731.8 L1280.1 732.8 L1282.1 733.9 L1284.1 735.0 L1286.1 736.1 L1288.1 737.3 L1290.1 738.4 L1292.1 739.7 L1294.1 740.9 L1296.1 742.1 L1298.1 743.4 L1300.1 744.7 L1302.1 746.1 L1304.1 747.4 L1306.1 748.8 L1308.1 750.2 L1310.1 751.6 L1312.1 753.1 L1314.1 754.5 L1316.1 756.0 L1318.1 757.5 L1320.1 759.1 L1322.1 760.6 L1324.1 762.2 L1326.1 763.8 L1328.1 765.4 L1330.1 767.0 L1332.1 768.7 L1334.1 770.3 L1336.1 772.0 L1338.1 773.7 L1340.1 775.4 L1342.1 777.2 L1344.1 778.9 L1346.1 780.7 L1348.1 782.5 L1350.1 784.3 L1352.1 786.1 L1354.1 787.9 L1356.1 789.7 L1358.1 791.6 L1360.1 793.5 L1362.1 795.3 L1364.1 797.2 L1366.1 799.1 L1368.1 801.0 L1370.1 803.0 L1372.1 804.9 L1374.1 806.9 L1376.1 808.8 L1378.1 810.8 L1380.1 812.8 L1382.1 814.7 L1384.1 816.7 L1386.1 818.7 L1388.1 820.8 L1390.1 822.8 L1392.1 824.8 L1394.1 826.8 L1396.1 828.9 L1398.1 830.9 L1400.1 833.0 L1400.5 833.4" fill="none" stroke="#0A6CB4" stroke-width="4.6" stroke-linejoin="round" stroke-linecap="round" clip-path="url(#cp3)"/>
<rect x="140.1" y="715.2" width="1260.4" height="125.8" fill="none" stroke="#262626" stroke-width="1.9"/>
<path d="M355.3 841.0V828.0M355.3 715.2V728.2M574.9 841.0V828.0M574.9 715.2V728.2M794.5 841.0V828.0M794.5 715.2V728.2M1014.0 841.0V828.0M1014.0 715.2V728.2M1233.6 841.0V828.0M1233.6 715.2V728.2M140.1 717.3H153.1M1400.5 717.3H1387.5M140.1 769.5H153.1M1400.5 769.5H1387.5M140.1 821.3H153.1M1400.5 821.3H1387.5" stroke="#262626" stroke-width="1.9" fill="none"/>
<text x="356.3" y="899.2" font-size="45" text-anchor="middle" fill="#222">50</text>
<text x="575.9" y="899.2" font-size="45" text-anchor="middle" fill="#222">100</text>
<text x="795.5" y="899.2" font-size="45" text-anchor="middle" fill="#222">150</text>
<text x="1015.0" y="899.2" font-size="45" text-anchor="middle" fill="#222">200</text>
<text x="1234.6" y="899.2" font-size="45" text-anchor="middle" fill="#222">250</text>
<text x="123.5" y="733.3" font-size="45" text-anchor="end" fill="#222">3</text>
<text x="123.5" y="785.5" font-size="45" text-anchor="end" fill="#222">1</text>
<text x="123.5" y="837.3" font-size="45" text-anchor="end" fill="#222">-1</text>
<text transform="translate(27.6 778.2) rotate(-90)" x="0" y="0" font-size="49" text-anchor="middle" dy="0.33em" fill="#222">IMF4</text>
<clipPath id="cp4"><rect x="139.1" y="933.0" width="1262.4" height="128.6"/></clipPath>
<path d="M140.1 1044.6 L142.1 1043.9 L144.1 1043.3 L146.1 1042.7 L148.1 1042.0 L150.1 1041.4 L152.1 1040.8 L154.1 1040.2 L156.1 1039.6 L158.1 1039.0 L160.1 1038.4 L162.1 1037.8 L164.1 1037.2 L166.1 1036.6 L168.1 1036.0 L170.1 1035.4 L172.1 1034.8 L174.1 1034.2 L176.1 1033.7 L178.1 1033.1 L180.1 1032.5 L182.1 1032.0 L184.1 1031.4 L186.1 1030.8 L188.1 1030.3 L190.1 1029.7 L192.1 1029.2 L194.1 1028.6 L196.1 1028.1 L198.1 1027.5 L200.1 1027.0 L202.1 1026.4 L204.1 1025.9 L206.1 1025.4 L208.1 1024.8 L210.1 1024.3 L212.1 1023.8 L214.1 1023.3 L216.1 1022.7 L218.1 1022.2 L220.1 1021.7 L222.1 1021.2 L224.1 1020.7 L226.1 1020.1 L228.1 1019.6 L230.1 1019.1 L232.1 1018.6 L234.1 1018.1 L236.1 1017.6 L238.1 1017.1 L240.1 1016.6 L242.1 1016.1 L244.1 1015.6 L246.1 1015.1 L248.1 1014.5 L250.1 1014.0 L252.1 1013.5 L254.1 1013.0 L256.1 1012.5 L258.1 1012.0 L260.1 1011.5 L262.1 1011.0 L264.1 1010.6 L266.1 1010.1 L268.1 1009.6 L270.1 1009.1 L272.1 1008.6 L274.1 1008.1 L276.1 1007.6 L278.1 1007.1 L280.1 1006.6 L282.1 1006.1 L284.1 1005.6 L286.1 1005.1 L288.1 1004.6 L290.1 1004.1 L292.1 1003.6 L294.1 1003.1 L296.1 1002.6 L298.1 1002.1 L300.1 1001.6 L302.1 1001.1 L304.1 1000.6 L306.1 1000.1 L308.1 999.6 L310.1 999.1 L312.1 998.6 L314.1 998.1 L316.1 997.6 L318.1 997.1 L320.1 996.7 L322.1 996.2 L324.1 995.7 L326.1 995.2 L328.1 994.7 L330.1 994.2 L332.1 993.7 L334.1 993.2 L336.1 992.7 L338.1 992.3 L340.1 991.8 L342.1 991.3 L344.1 990.8 L346.1 990.3 L348.1 989.8 L350.1 989.4 L352.1 988.9 L354.1 988.4 L356.1 987.9 L358.1 987.5 L360.1 987.0 L362.1 986.5 L364.1 986.1 L366.1 985.6 L368.1 985.1 L370.1 984.6 L372.1 984.2 L374.1 983.7 L376.1 983.3 L378.1 982.8 L380.1 982.3 L382.1 981.9 L384.1 981.4 L386.1 981.0 L388.1 980.5 L390.1 980.1 L392.1 979.6 L394.1 979.2 L396.1 978.7 L398.1 978.3 L400.1 977.8 L402.1 977.4 L404.1 977.0 L406.1 976.5 L408.1 976.1 L410.1 975.7 L412.1 975.2 L414.1 974.8 L416.1 974.4 L418.1 973.9 L420.1 973.5 L422.1 973.1 L424.1 972.7 L426.1 972.3 L428.1 971.9 L430.1 971.4 L432.1 971.0 L434.1 970.6 L436.1 970.2 L438.1 969.8 L440.1 969.4 L442.1 969.0 L444.1 968.6 L446.1 968.2 L448.1 967.8 L450.1 967.4 L452.1 967.0 L454.1 966.6 L456.1 966.2 L458.1 965.8 L460.1 965.5 L462.1 965.1 L464.1 964.7 L466.1 964.3 L468.1 963.9 L470.1 963.6 L472.1 963.2 L474.1 962.8 L476.1 962.4 L478.1 962.1 L480.1 961.7 L482.1 961.3 L484.1 961.0 L486.1 960.6 L488.1 960.3 L490.1 959.9 L492.1 959.6 L494.1 959.2 L496.1 958.9 L498.1 958.5 L500.1 958.2 L502.1 957.8 L504.1 957.5 L506.1 957.1 L508.1 956.8 L510.1 956.5 L512.1 956.1 L514.1 955.8 L516.1 955.5 L518.1 955.2 L520.1 954.8 L522.1 954.5 L524.1 954.2 L526.1 953.9 L528.1 953.6 L530.1 953.2 L532.1 952.9 L534.1 952.6 L536.1 952.3 L538.1 952.0 L540.1 951.7 L542.1 951.4 L544.1 951.1 L546.1 950.8 L548.1 950.5 L550.1 950.2 L552.1 949.9 L554.1 949.7 L556.1 949.4 L558.1 949.1 L560.1 948.8 L562.1 948.5 L564.1 948.3 L566.1 948.0 L568.1 947.7 L570.1 947.5 L572.1 947.2 L574.1 946.9 L576.1 946.7 L578.1 946.4 L580.1 946.1 L582.1 945.9 L584.1 945.6 L586.1 945.4 L588.1 945.1 L590.1 944.9 L592.1 944.7 L594.1 944.4 L596.1 944.2 L598.1 943.9 L600.1 943.7 L602.1 943.5 L604.1 943.3 L606.1 943.0 L608.1 942.8 L610.1 942.6 L612.1 942.4 L614.1 942.2 L616.1 941.9 L618.1 941.7 L620.1 941.5 L622.1 941.3 L624.1 941.1 L626.1 940.9 L628.1 940.7 L630.1 940.5 L632.1 940.3 L634.1 940.1 L636.1 940.0 L638.1 939.8 L640.1 939.6 L642.1 939.4 L644.1 939.2 L646.1 939.0 L648.1 938.9 L650.1 938.7 L652.1 938.5 L654.1 938.4 L656.1 938.2 L658.1 938.1 L660.1 937.9 L662.1 937.7 L664.1 937.6 L666.1 937.4 L668.1 937.3 L670.1 937.1 L672.1 937.0 L674.1 936.9 L676.1 936.7 L678.1 936.6 L680.1 936.5 L682.1 936.3 L684.1 936.2 L686.1 936.1 L688.1 936.0 L690.1 935.8 L692.1 935.7 L694.1 935.6 L696.1 935.5 L698.1 935.4 L700.1 935.3 L702.1 935.2 L704.1 935.1 L706.1 935.0 L708.1 934.9 L710.1 934.8 L712.1 934.7 L714.1 934.6 L716.1 934.6 L718.1 934.5 L720.1 934.4 L722.1 934.3 L724.1 934.3 L726.1 934.2 L728.1 934.1 L730.1 934.1 L732.1 934.0 L734.1 934.0 L736.1 933.9 L738.1 933.8 L740.1 933.8 L742.1 933.8 L744.1 933.7 L746.1 933.7 L748.1 933.6 L750.1 933.6 L752.1 933.6 L754.1 933.5 L756.1 933.5 L758.1 933.5 L760.1 933.5 L762.1 933.5 L764.1 933.4 L766.1 933.4 L768.1 933.4 L770.1 933.4 L772.1 933.4 L774.1 933.4 L776.1 933.4 L778.1 933.4 L780.1 933.4 L782.1 933.4 L784.1 933.5 L786.1 933.5 L788.1 933.5 L790.1 933.5 L792.1 933.6 L794.1 933.6 L796.1 933.6 L798.1 933.7 L800.1 933.7 L802.1 933.7 L804.1 933.8 L806.1 933.8 L808.1 933.9 L810.1 933.9 L812.1 934.0 L814.1 934.1 L816.1 934.1 L818.1 934.2 L820.1 934.3 L822.1 934.3 L824.1 934.4 L826.1 934.5 L828.1 934.6 L830.1 934.7 L832.1 934.8 L834.1 934.8 L836.1 934.9 L838.1 935.0 L840.1 935.1 L842.1 935.2 L844.1 935.4 L846.1 935.5 L848.1 935.6 L850.1 935.7 L852.1 935.8 L854.1 935.9 L856.1 936.1 L858.1 936.2 L860.1 936.3 L862.1 936.5 L864.1 936.6 L866.1 936.7 L868.1 936.9 L870.1 937.0 L872.1 937.2 L874.1 937.3 L876.1 937.5 L878.1 937.6 L880.1 937.8 L882.1 938.0 L884.1 938.1 L886.1 938.3 L888.1 938.5 L890.1 938.6 L892.1 938.8 L894.1 939.0 L896.1 939.2 L898.1 939.4 L900.1 939.6 L902.1 939.8 L904.1 940.0 L906.1 940.2 L908.1 940.4 L910.1 940.6 L912.1 940.8 L914.1 941.0 L916.1 941.2 L918.1 941.4 L920.1 941.6 L922.1 941.8 L924.1 942.1 L926.1 942.3 L928.1 942.5 L930.1 942.8 L932.1 943.0 L934.1 943.2 L936.1 943.5 L938.1 943.7 L940.1 944.0 L942.1 944.2 L944.1 944.5 L946.1 944.7 L948.1 945.0 L950.1 945.2 L952.1 945.5 L954.1 945.7 L956.1 946.0 L958.1 946.3 L960.1 946.6 L962.1 946.8 L964.1 947.1 L966.1 947.4 L968.1 947.7 L970.1 948.0 L972.1 948.2 L974.1 948.5 L976.1 948.8 L978.1 949.1 L980.1 949.4 L982.1 949.7 L984.1 950.0 L986.1 950.3 L988.1 950.6 L990.1 951.0 L992.1 951.3 L994.1 951.6 L996.1 951.9 L998.1 952.2 L1000.1 952.6 L1002.1 952.9 L1004.1 953.2 L1006.1 953.5 L1008.1 953.9 L1010.1 954.2 L1012.1 954.6 L1014.1 954.9 L1016.1 955.2 L1018.1 955.6 L1020.1 955.9 L1022.1 956.3 L1024.1 956.6 L1026.1 957.0 L1028.1 957.4 L1030.1 957.7 L1032.1 958.1 L1034.1 958.5 L1036.1 958.8 L1038.1 959.2 L1040.1 959.6 L1042.1 959.9 L1044.1 960.3 L1046.1 960.7 L1048.1 961.1 L1050.1 961.5 L1052.1 961.9 L1054.1 962.3 L1056.1 962.7 L1058.1 963.0 L1060.1 963.4 L1062.1 963.8 L1064.1 964.3 L1066.1 964.7 L1068.1 965.1 L1070.1 965.5 L1072.1 965.9 L1074.1 966.3 L1076.1 966.7 L1078.1 967.1 L1080.1 967.6 L1082.1 968.0 L1084.1 968.4 L1086.1 968.8 L1088.1 969.3 L1090.1 969.7 L1092.1 970.1 L1094.1 970.6 L1096.1 971.0 L1098.1 971.5 L1100.1 971.9 L1102.1 972.3 L1104.1 972.8 L1106.1 973.2 L1108.1 973.7 L1110.1 974.1 L1112.1 974.6 L1114.1 975.1 L1116.1 975.5 L1118.1 976.0 L1120.1 976.5 L1122.1 976.9 L1124.1 977.4 L1126.1 977.9 L1128.1 978.3 L1130.1 978.8 L1132.1 979.3 L1134.1 979.8 L1136.1 980.3 L1138.1 980.7 L1140.1 981.2 L1142.1 981.7 L1144.1 982.2 L1146.1 982.7 L1148.1 983.2 L1150.1 983.7 L1152.1 984.2 L1154.1 984.7 L1156.1 985.2 L1158.1 985.7 L1160.1 986.2 L1162.1 986.7 L1164.1 987.2 L1166.1 987.8 L1168.1 988.3 L1170.1 988.8 L1172.1 989.3 L1174.1 989.8 L1176.1 990.4 L1178.1 990.9 L1180.1 991.4 L1182.1 992.0 L1184.1 992.5 L1186.1 993.0 L1188.1 993.6 L1190.1 994.1 L1192.1 994.6 L1194.1 995.2 L1196.1 995.7 L1198.1 996.3 L1200.1 996.8 L1202.1 997.4 L1204.1 997.9 L1206.1 998.5 L1208.1 999.0 L1210.1 999.6 L1212.1 1000.1 L1214.1 1000.7 L1216.1 1001.3 L1218.1 1001.8 L1220.1 1002.4 L1222.1 1003.0 L1224.1 1003.5 L1226.1 1004.1 L1228.1 1004.7 L1230.1 1005.3 L1232.1 1005.8 L1234.1 1006.4 L1236.1 1007.0 L1238.1 1007.6 L1240.1 1008.2 L1242.1 1008.8 L1244.1 1009.3 L1246.1 1009.9 L1248.1 1010.5 L1250.1 1011.1 L1252.1 1011.7 L1254.1 1012.3 L1256.1 1012.9 L1258.1 1013.5 L1260.1 1014.1 L1262.1 1014.7 L1264.1 1015.3 L1266.1 1015.9 L1268.1 1016.5 L1270.1 1017.2 L1272.1 1017.8 L1274.1 1018.4 L1276.1 1019.0 L1278.1 1019.6 L1280.1 1020.2 L1282.1 1020.9 L1284.1 1021.5 L1286.1 1022.1 L1288.1 1022.7 L1290.1 1023.4 L1292.1 1024.0 L1294.1 1024.6 L1296.1 1025.3 L1298.1 1025.9 L1300.1 1026.5 L1302.1 1027.2 L1304.1 1027.8 L1306.1 1028.4 L1308.1 1029.1 L1310.1 1029.7 L1312.1 1030.4 L1314.1 1031.0 L1316.1 1031.7 L1318.1 1032.3 L1320.1 1033.0 L1322.1 1033.6 L1324.1 1034.3 L1326.1 1034.9 L1328.1 1035.6 L1330.1 1036.3 L1332.1 1036.9 L1334.1 1037.6 L1336.1 1038.2 L1338.1 1038.9 L1340.1 1039.6 L1342.1 1040.2 L1344.1 1040.9 L1346.1 1041.6 L1348.1 1042.3 L1350.1 1042.9 L1352.1 1043.6 L1354.1 1044.3 L1356.1 1045.0 L1358.1 1045.6 L1360.1 1046.3 L1362.1 1047.0 L1364.1 1047.7 L1366.1 1048.4 L1368.1 1049.1 L1370.1 1049.7 L1372.1 1050.4 L1374.1 1051.1 L1376.1 1051.8 L1378.1 1052.5 L1380.1 1053.2 L1382.1 1053.9 L1384.1 1054.6 L1386.1 1055.3 L1388.1 1056.0 L1390.1 1056.7 L1392.1 1057.4 L1394.1 1058.1 L1396.1 1058.8 L1398.1 1059.5 L1400.1 1060.2 L1400.5 1060.4" fill="none" stroke="#0A6CB4" stroke-width="4.6" stroke-linejoin="round" stroke-linecap="round" clip-path="url(#cp4)"/>
<rect x="140.1" y="934.5" width="1260.4" height="125.6" fill="none" stroke="#262626" stroke-width="1.9"/>
<path d="M355.3 1060.1V1047.1M355.3 934.5V947.5M574.9 1060.1V1047.1M574.9 934.5V947.5M794.5 1060.1V1047.1M794.5 934.5V947.5M1014.0 1060.1V1047.1M1014.0 934.5V947.5M1233.6 1060.1V1047.1M1233.6 934.5V947.5M140.1 952.2H153.1M1400.5 952.2H1387.5M140.1 993.0H153.1M1400.5 993.0H1387.5M140.1 1035.2H153.1M1400.5 1035.2H1387.5" stroke="#262626" stroke-width="1.9" fill="none"/>
<text x="356.3" y="1118.3" font-size="45" text-anchor="middle" fill="#222">50</text>
<text x="575.9" y="1118.3" font-size="45" text-anchor="middle" fill="#222">100</text>
<text x="795.5" y="1118.3" font-size="45" text-anchor="middle" fill="#222">150</text>
<text x="1015.0" y="1118.3" font-size="45" text-anchor="middle" fill="#222">200</text>
<text x="1234.6" y="1118.3" font-size="45" text-anchor="middle" fill="#222">250</text>
<text x="123.5" y="968.2" font-size="45" text-anchor="end" fill="#222">1</text>
<text x="123.5" y="1009.0" font-size="45" text-anchor="end" fill="#222">0</text>
<text x="123.5" y="1051.2" font-size="45" text-anchor="end" fill="#222">-1</text>
<text transform="translate(28.2 998.6) rotate(-90)" x="0" y="0" font-size="49" text-anchor="middle" dy="0.33em" fill="#222">IMF5</text>
<clipPath id="cp5"><rect x="139.1" y="1151.3" width="1262.4" height="129.5"/></clipPath>
<path d="M140.1 1153.7 L142.1 1153.8 L144.1 1153.9 L146.1 1154.0 L148.1 1154.2 L150.1 1154.3 L152.1 1154.4 L154.1 1154.5 L156.1 1154.6 L158.1 1154.8 L160.1 1154.9 L162.1 1155.0 L164.1 1155.1 L166.1 1155.3 L168.1 1155.4 L170.1 1155.5 L172.1 1155.6 L174.1 1155.8 L176.1 1155.9 L178.1 1156.0 L180.1 1156.1 L182.1 1156.3 L184.1 1156.4 L186.1 1156.5 L188.1 1156.7 L190.1 1156.8 L192.1 1156.9 L194.1 1157.1 L196.1 1157.2 L198.1 1157.3 L200.1 1157.5 L202.1 1157.6 L204.1 1157.7 L206.1 1157.9 L208.1 1158.0 L210.1 1158.1 L212.1 1158.3 L214.1 1158.4 L216.1 1158.6 L218.1 1158.7 L220.1 1158.9 L222.1 1159.0 L224.1 1159.1 L226.1 1159.3 L228.1 1159.4 L230.1 1159.6 L232.1 1159.7 L234.1 1159.9 L236.1 1160.0 L238.1 1160.2 L240.1 1160.3 L242.1 1160.5 L244.1 1160.6 L246.1 1160.8 L248.1 1160.9 L250.1 1161.1 L252.1 1161.2 L254.1 1161.4 L256.1 1161.5 L258.1 1161.7 L260.1 1161.8 L262.1 1162.0 L264.1 1162.1 L266.1 1162.3 L268.1 1162.4 L270.1 1162.6 L272.1 1162.8 L274.1 1162.9 L276.1 1163.1 L278.1 1163.2 L280.1 1163.4 L282.1 1163.6 L284.1 1163.7 L286.1 1163.9 L288.1 1164.0 L290.1 1164.2 L292.1 1164.4 L294.1 1164.5 L296.1 1164.7 L298.1 1164.9 L300.1 1165.0 L302.1 1165.2 L304.1 1165.4 L306.1 1165.5 L308.1 1165.7 L310.1 1165.9 L312.1 1166.0 L314.1 1166.2 L316.1 1166.4 L318.1 1166.5 L320.1 1166.7 L322.1 1166.9 L324.1 1167.1 L326.1 1167.2 L328.1 1167.4 L330.1 1167.6 L332.1 1167.8 L334.1 1167.9 L336.1 1168.1 L338.1 1168.3 L340.1 1168.5 L342.1 1168.6 L344.1 1168.8 L346.1 1169.0 L348.1 1169.2 L350.1 1169.3 L352.1 1169.5 L354.1 1169.7 L356.1 1169.9 L358.1 1170.1 L360.1 1170.3 L362.1 1170.4 L364.1 1170.6 L366.1 1170.8 L368.1 1171.0 L370.1 1171.2 L372.1 1171.4 L374.1 1171.5 L376.1 1171.7 L378.1 1171.9 L380.1 1172.1 L382.1 1172.3 L384.1 1172.5 L386.1 1172.7 L388.1 1172.8 L390.1 1173.0 L392.1 1173.2 L394.1 1173.4 L396.1 1173.6 L398.1 1173.8 L400.1 1174.0 L402.1 1174.2 L404.1 1174.4 L406.1 1174.6 L408.1 1174.7 L410.1 1174.9 L412.1 1175.1 L414.1 1175.3 L416.1 1175.5 L418.1 1175.7 L420.1 1175.9 L422.1 1176.1 L424.1 1176.3 L426.1 1176.5 L428.1 1176.7 L430.1 1176.9 L432.1 1177.1 L434.1 1177.3 L436.1 1177.5 L438.1 1177.7 L440.1 1177.9 L442.1 1178.1 L444.1 1178.3 L446.1 1178.5 L448.1 1178.7 L450.1 1178.9 L452.1 1179.1 L454.1 1179.3 L456.1 1179.5 L458.1 1179.7 L460.1 1179.9 L462.1 1180.1 L464.1 1180.3 L466.1 1180.5 L468.1 1180.7 L470.1 1180.9 L472.1 1181.1 L474.1 1181.3 L476.1 1181.5 L478.1 1181.8 L480.1 1182.0 L482.1 1182.2 L484.1 1182.4 L486.1 1182.6 L488.1 1182.8 L490.1 1183.0 L492.1 1183.2 L494.1 1183.4 L496.1 1183.6 L498.1 1183.8 L500.1 1184.0 L502.1 1184.3 L504.1 1184.5 L506.1 1184.7 L508.1 1184.9 L510.1 1185.1 L512.1 1185.3 L514.1 1185.5 L516.1 1185.7 L518.1 1186.0 L520.1 1186.2 L522.1 1186.4 L524.1 1186.6 L526.1 1186.8 L528.1 1187.0 L530.1 1187.2 L532.1 1187.5 L534.1 1187.7 L536.1 1187.9 L538.1 1188.1 L540.1 1188.3 L542.1 1188.5 L544.1 1188.8 L546.1 1189.0 L548.1 1189.2 L550.1 1189.4 L552.1 1189.6 L554.1 1189.9 L556.1 1190.1 L558.1 1190.3 L560.1 1190.5 L562.1 1190.7 L564.1 1191.0 L566.1 1191.2 L568.1 1191.4 L570.1 1191.6 L572.1 1191.8 L574.1 1192.1 L576.1 1192.3 L578.1 1192.5 L580.1 1192.7 L582.1 1192.9 L584.1 1193.2 L586.1 1193.4 L588.1 1193.6 L590.1 1193.8 L592.1 1194.1 L594.1 1194.3 L596.1 1194.5 L598.1 1194.7 L600.1 1195.0 L602.1 1195.2 L604.1 1195.4 L606.1 1195.6 L608.1 1195.9 L610.1 1196.1 L612.1 1196.3 L614.1 1196.5 L616.1 1196.8 L618.1 1197.0 L620.1 1197.2 L622.1 1197.4 L624.1 1197.7 L626.1 1197.9 L628.1 1198.1 L630.1 1198.4 L632.1 1198.6 L634.1 1198.8 L636.1 1199.0 L638.1 1199.3 L640.1 1199.5 L642.1 1199.7 L644.1 1200.0 L646.1 1200.2 L648.1 1200.4 L650.1 1200.7 L652.1 1200.9 L654.1 1201.1 L656.1 1201.3 L658.1 1201.6 L660.1 1201.8 L662.1 1202.0 L664.1 1202.3 L666.1 1202.5 L668.1 1202.7 L670.1 1203.0 L672.1 1203.2 L674.1 1203.4 L676.1 1203.7 L678.1 1203.9 L680.1 1204.1 L682.1 1204.4 L684.1 1204.6 L686.1 1204.8 L688.1 1205.0 L690.1 1205.3 L692.1 1205.5 L694.1 1205.7 L696.1 1206.0 L698.1 1206.2 L700.1 1206.4 L702.1 1206.7 L704.1 1206.9 L706.1 1207.2 L708.1 1207.4 L710.1 1207.6 L712.1 1207.9 L714.1 1208.1 L716.1 1208.3 L718.1 1208.6 L720.1 1208.8 L722.1 1209.0 L724.1 1209.3 L726.1 1209.5 L728.1 1209.7 L730.1 1210.0 L732.1 1210.2 L734.1 1210.4 L736.1 1210.7 L738.1 1210.9 L740.1 1211.1 L742.1 1211.4 L744.1 1211.6 L746.1 1211.9 L748.1 1212.1 L750.1 1212.3 L752.1 1212.6 L754.1 1212.8 L756.1 1213.0 L758.1 1213.3 L760.1 1213.5 L762.1 1213.7 L764.1 1214.0 L766.1 1214.2 L768.1 1214.5 L770.1 1214.7 L772.1 1214.9 L774.1 1215.2 L776.1 1215.4 L778.1 1215.6 L780.1 1215.9 L782.1 1216.1 L784.1 1216.3 L786.1 1216.6 L788.1 1216.8 L790.1 1217.1 L792.1 1217.3 L794.1 1217.5 L796.1 1217.8 L798.1 1218.0 L800.1 1218.2 L802.1 1218.5 L804.1 1218.7 L806.1 1219.0 L808.1 1219.2 L810.1 1219.4 L812.1 1219.7 L814.1 1219.9 L816.1 1220.1 L818.1 1220.4 L820.1 1220.6 L822.1 1220.9 L824.1 1221.1 L826.1 1221.3 L828.1 1221.6 L830.1 1221.8 L832.1 1222.0 L834.1 1222.3 L836.1 1222.5 L838.1 1222.8 L840.1 1223.0 L842.1 1223.2 L844.1 1223.5 L846.1 1223.7 L848.1 1223.9 L850.1 1224.2 L852.1 1224.4 L854.1 1224.6 L856.1 1224.9 L858.1 1225.1 L860.1 1225.4 L862.1 1225.6 L864.1 1225.8 L866.1 1226.1 L868.1 1226.3 L870.1 1226.5 L872.1 1226.8 L874.1 1227.0 L876.1 1227.2 L878.1 1227.5 L880.1 1227.7 L882.1 1228.0 L884.1 1228.2 L886.1 1228.4 L888.1 1228.7 L890.1 1228.9 L892.1 1229.1 L894.1 1229.4 L896.1 1229.6 L898.1 1229.8 L900.1 1230.1 L902.1 1230.3 L904.1 1230.5 L906.1 1230.8 L908.1 1231.0 L910.1 1231.3 L912.1 1231.5 L914.1 1231.7 L916.1 1232.0 L918.1 1232.2 L920.1 1232.4 L922.1 1232.7 L924.1 1232.9 L926.1 1233.1 L928.1 1233.4 L930.1 1233.6 L932.1 1233.8 L934.1 1234.1 L936.1 1234.3 L938.1 1234.5 L940.1 1234.8 L942.1 1235.0 L944.1 1235.2 L946.1 1235.5 L948.1 1235.7 L950.1 1235.9 L952.1 1236.2 L954.1 1236.4 L956.1 1236.6 L958.1 1236.8 L960.1 1237.1 L962.1 1237.3 L964.1 1237.5 L966.1 1237.8 L968.1 1238.0 L970.1 1238.2 L972.1 1238.5 L974.1 1238.7 L976.1 1238.9 L978.1 1239.2 L980.1 1239.4 L982.1 1239.6 L984.1 1239.8 L986.1 1240.1 L988.1 1240.3 L990.1 1240.5 L992.1 1240.8 L994.1 1241.0 L996.1 1241.2 L998.1 1241.4 L1000.1 1241.7 L1002.1 1241.9 L1004.1 1242.1 L1006.1 1242.4 L1008.1 1242.6 L1010.1 1242.8 L1012.1 1243.0 L1014.1 1243.3 L1016.1 1243.5 L1018.1 1243.7 L1020.1 1243.9 L1022.1 1244.2 L1024.1 1244.4 L1026.1 1244.6 L1028.1 1244.8 L1030.1 1245.1 L1032.1 1245.3 L1034.1 1245.5 L1036.1 1245.7 L1038.1 1246.0 L1040.1 1246.2 L1042.1 1246.4 L1044.1 1246.6 L1046.1 1246.9 L1048.1 1247.1 L1050.1 1247.3 L1052.1 1247.5 L1054.1 1247.7 L1056.1 1248.0 L1058.1 1248.2 L1060.1 1248.4 L1062.1 1248.6 L1064.1 1248.9 L1066.1 1249.1 L1068.1 1249.3 L1070.1 1249.5 L1072.1 1249.7 L1074.1 1250.0 L1076.1 1250.2 L1078.1 1250.4 L1080.1 1250.6 L1082.1 1250.8 L1084.1 1251.0 L1086.1 1251.3 L1088.1 1251.5 L1090.1 1251.7 L1092.1 1251.9 L1094.1 1252.1 L1096.1 1252.3 L1098.1 1252.6 L1100.1 1252.8 L1102.1 1253.0 L1104.1 1253.2 L1106.1 1253.4 L1108.1 1253.6 L1110.1 1253.8 L1112.1 1254.1 L1114.1 1254.3 L1116.1 1254.5 L1118.1 1254.7 L1120.1 1254.9 L1122.1 1255.1 L1124.1 1255.3 L1126.1 1255.5 L1128.1 1255.8 L1130.1 1256.0 L1132.1 1256.2 L1134.1 1256.4 L1136.1 1256.6 L1138.1 1256.8 L1140.1 1257.0 L1142.1 1257.2 L1144.1 1257.4 L1146.1 1257.6 L1148.1 1257.8 L1150.1 1258.0 L1152.1 1258.3 L1154.1 1258.5 L1156.1 1258.7 L1158.1 1258.9 L1160.1 1259.1 L1162.1 1259.3 L1164.1 1259.5 L1166.1 1259.7 L1168.1 1259.9 L1170.1 1260.1 L1172.1 1260.3 L1174.1 1260.5 L1176.1 1260.7 L1178.1 1260.9 L1180.1 1261.1 L1182.1 1261.3 L1184.1 1261.5 L1186.1 1261.7 L1188.1 1261.9 L1190.1 1262.1 L1192.1 1262.3 L1194.1 1262.5 L1196.1 1262.7 L1198.1 1262.9 L1200.1 1263.1 L1202.1 1263.3 L1204.1 1263.5 L1206.1 1263.7 L1208.1 1263.9 L1210.1 1264.1 L1212.1 1264.3 L1214.1 1264.5 L1216.1 1264.7 L1218.1 1264.9 L1220.1 1265.0 L1222.1 1265.2 L1224.1 1265.4 L1226.1 1265.6 L1228.1 1265.8 L1230.1 1266.0 L1232.1 1266.2 L1234.1 1266.4 L1236.1 1266.6 L1238.1 1266.8 L1240.1 1267.0 L1242.1 1267.1 L1244.1 1267.3 L1246.1 1267.5 L1248.1 1267.7 L1250.1 1267.9 L1252.1 1268.1 L1254.1 1268.3 L1256.1 1268.4 L1258.1 1268.6 L1260.1 1268.8 L1262.1 1269.0 L1264.1 1269.2 L1266.1 1269.4 L1268.1 1269.5 L1270.1 1269.7 L1272.1 1269.9 L1274.1 1270.1 L1276.1 1270.3 L1278.1 1270.4 L1280.1 1270.6 L1282.1 1270.8 L1284.1 1271.0 L1286.1 1271.2 L1288.1 1271.3 L1290.1 1271.5 L1292.1 1271.7 L1294.1 1271.9 L1296.1 1272.0 L1298.1 1272.2 L1300.1 1272.4 L1302.1 1272.6 L1304.1 1272.7 L1306.1 1272.9 L1308.1 1273.1 L1310.1 1273.2 L1312.1 1273.4 L1314.1 1273.6 L1316.1 1273.8 L1318.1 1273.9 L1320.1 1274.1 L1322.1 1274.3 L1324.1 1274.4 L1326.1 1274.6 L1328.1 1274.8 L1330.1 1274.9 L1332.1 1275.1 L1334.1 1275.3 L1336.1 1275.4 L1338.1 1275.6 L1340.1 1275.7 L1342.1 1275.9 L1344.1 1276.1 L1346.1 1276.2 L1348.1 1276.4 L1350.1 1276.5 L1352.1 1276.7 L1354.1 1276.9 L1356.1 1277.0 L1358.1 1277.2 L1360.1 1277.3 L1362.1 1277.5 L1364.1 1277.7 L1366.1 1277.8 L1368.1 1278.0 L1370.1 1278.1 L1372.1 1278.3 L1374.1 1278.4 L1376.1 1278.6 L1378.1 1278.7 L1380.1 1278.9 L1382.1 1279.0 L1384.1 1279.2 L1386.1 1279.3 L1388.1 1279.5 L1390.1 1279.6 L1392.1 1279.8 L1394.1 1279.9 L1396.1 1280.1 L1398.1 1280.2 L1400.1 1280.4 L1400.5 1280.4" fill="none" stroke="#0A6CB4" stroke-width="4.6" stroke-linejoin="round" stroke-linecap="round" clip-path="url(#cp5)"/>
<rect x="140.1" y="1152.8" width="1260.4" height="126.5" fill="none" stroke="#262626" stroke-width="1.9"/>
<path d="M355.3 1279.3V1266.3M355.3 1152.8V1165.8M574.9 1279.3V1266.3M574.9 1152.8V1165.8M794.5 1279.3V1266.3M794.5 1152.8V1165.8M1014.0 1279.3V1266.3M1014.0 1152.8V1165.8M1233.6 1279.3V1266.3M1233.6 1152.8V1165.8M140.1 1159.1H153.1M1400.5 1159.1H1387.5M140.1 1218.7H153.1M1400.5 1218.7H1387.5M140.1 1278.6H153.1M1400.5 1278.6H1387.5" stroke="#262626" stroke-width="1.9" fill="none"/>
<text x="356.3" y="1337.5" font-size="45" text-anchor="middle" fill="#222">50</text>
<text x="575.9" y="1337.5" font-size="45" text-anchor="middle" fill="#222">100</text>
<text x="795.5" y="1337.5" font-size="45" text-anchor="middle" fill="#222">150</text>
<text x="1015.0" y="1337.5" font-size="45" text-anchor="middle" fill="#222">200</text>
<text x="1234.6" y="1337.5" font-size="45" text-anchor="middle" fill="#222">250</text>
<text x="123.5" y="1175.1" font-size="45" text-anchor="end" fill="#222">13.8</text>
<text x="123.5" y="1234.7" font-size="45" text-anchor="end" fill="#222">13.3</text>
<text x="123.5" y="1294.6" font-size="45" text-anchor="end" fill="#222">12.8</text>
<text transform="translate(24.5 1217.0) rotate(-90)" x="0" y="0" font-size="49" text-anchor="middle" dy="0.33em" fill="#222">Res</text>
<text x="770" y="1398.7" font-size="52.5" text-anchor="middle">Month</text>
</svg></body></html>
